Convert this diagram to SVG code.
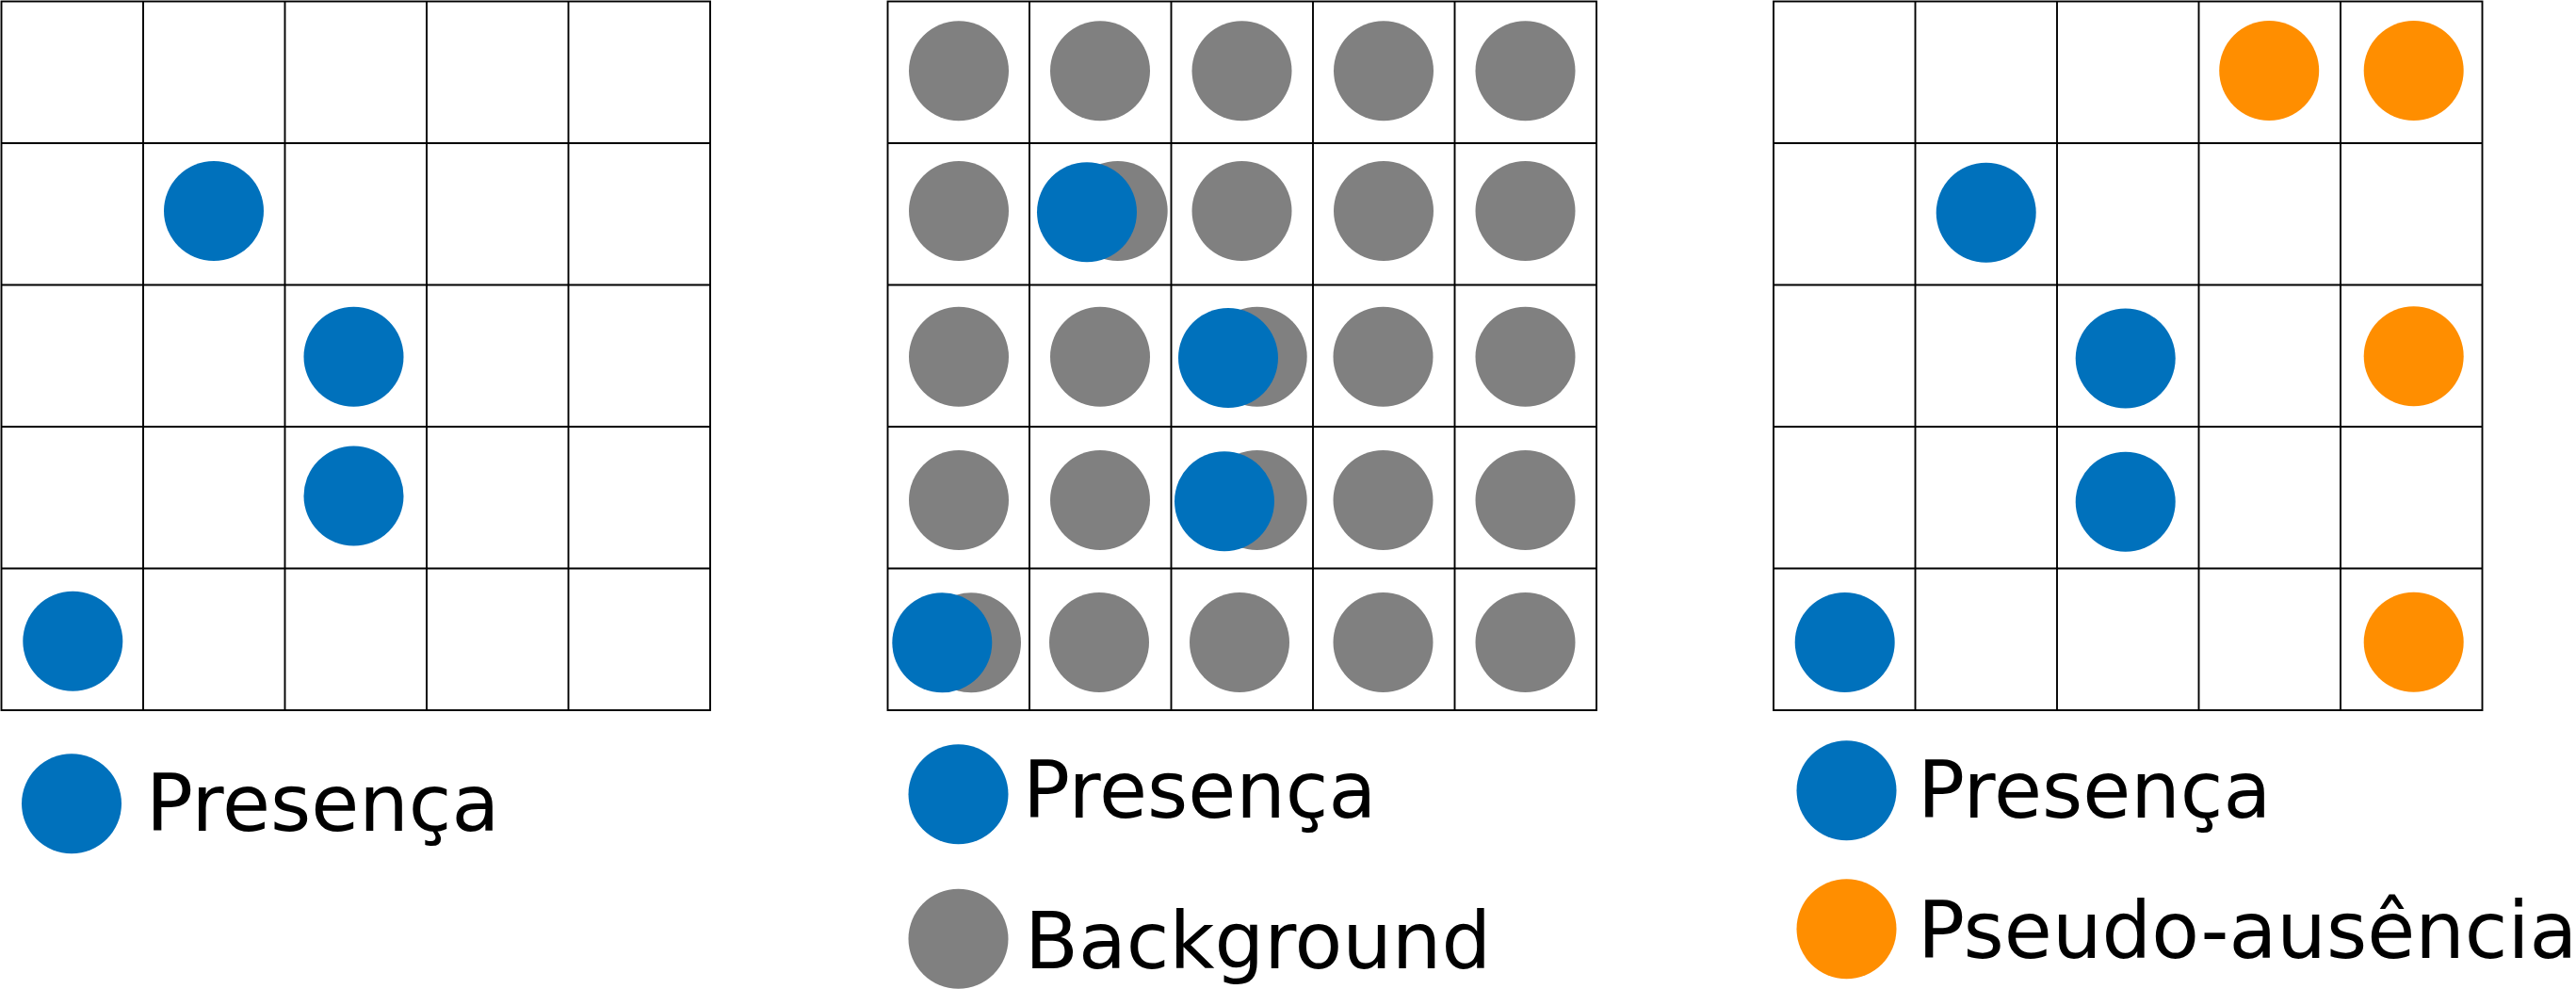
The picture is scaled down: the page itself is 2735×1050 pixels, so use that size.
<svg xmlns="http://www.w3.org/2000/svg" width="2735" height="1050" viewBox="0 0 2735 1050">
<style>
.grid{fill:none;stroke:#000;stroke-width:1.9}
.p{fill:#0071bc}
.b{fill:#808080}
.a{fill:#ff8e00}
.lbl{font-family:"DejaVu Sans","Noto Sans",sans-serif;font-size:83px;fill:#000}
</style>
<defs>
<g id="grid5">
<rect x="0" y="0" width="752.5" height="752.5"/>
<path d="M150.5 0V752.5M301 0V752.5M451.5 0V752.5M602 0V752.5M0 150.5H752.5M0 301H752.5M0 451.5H752.5M0 602H752.5"/>
</g>
</defs>
<rect width="2735" height="1050" fill="#fff"/>

<g id="panel1">
<use href="#grid5" class="grid" x="1.5" y="1.5"/>
<circle class="p" cx="227" cy="224" r="53"/>
<circle class="p" cx="375.5" cy="378.8" r="53"/>
<circle class="p" cx="375.5" cy="526.5" r="53"/>
<circle class="p" cx="77.3" cy="680.8" r="53"/>
</g>

<g id="panel2">
<use href="#grid5" class="grid" x="942.5" y="1.5"/>
<g id="bg-row0">
<circle class="b" cx="1018" cy="75.3" r="53"/>
<circle class="b" cx="1168" cy="75.3" r="53"/>
<circle class="b" cx="1318.5" cy="75.3" r="53"/>
<circle class="b" cx="1469" cy="75.3" r="53"/>
<circle class="b" cx="1619.5" cy="75.3" r="53"/>
</g>
<g id="bg-row1">
<circle class="b" cx="1018" cy="224" r="53"/>
<circle class="b" cx="1186.7" cy="224" r="53"/>
<circle class="b" cx="1318.5" cy="224" r="53"/>
<circle class="b" cx="1469" cy="224" r="53"/>
<circle class="b" cx="1619.5" cy="224" r="53"/>
</g>
<g id="bg-row2">
<circle class="b" cx="1018" cy="378.8" r="53"/>
<circle class="b" cx="1168" cy="378.8" r="53"/>
<circle class="b" cx="1334.7" cy="378.8" r="53"/>
<circle class="b" cx="1468.5" cy="378.8" r="53"/>
<circle class="b" cx="1619.5" cy="378.8" r="53"/>
</g>
<g id="bg-row3">
<circle class="b" cx="1018" cy="531" r="53"/>
<circle class="b" cx="1168" cy="531" r="53"/>
<circle class="b" cx="1334.7" cy="531" r="53"/>
<circle class="b" cx="1468.5" cy="531" r="53"/>
<circle class="b" cx="1619.5" cy="531" r="53"/>
</g>
<g id="bg-row4">
<circle class="b" cx="1031" cy="682.3" r="53"/>
<circle class="b" cx="1167" cy="682" r="53"/>
<circle class="b" cx="1316" cy="682" r="53"/>
<circle class="b" cx="1468.5" cy="682" r="53"/>
<circle class="b" cx="1619.5" cy="682" r="53"/>
</g>
<circle class="p" cx="1154" cy="225.3" r="53"/>
<circle class="p" cx="1304" cy="380" r="53"/>
<circle class="p" cx="1300" cy="532.2" r="53"/>
<circle class="p" cx="1000.3" cy="682.3" r="53"/>
</g>

<g id="panel3">
<use href="#grid5" class="grid" x="1883" y="1.5"/>
<circle class="a" cx="2409.2" cy="75" r="53"/>
<circle class="a" cx="2562.7" cy="75" r="53"/>
<circle class="p" cx="2108.7" cy="225.7" r="53"/>
<circle class="p" cx="2256.7" cy="380.5" r="53"/>
<circle class="a" cx="2562.7" cy="378.3" r="53"/>
<circle class="p" cx="2256.7" cy="532.8" r="53"/>
<circle class="p" cx="1958.7" cy="682" r="53"/>
<circle class="a" cx="2562.7" cy="681.8" r="53"/>
</g>

<g id="legend1">
<circle class="p" cx="76" cy="853.3" r="53"/>
<text class="lbl" x="155" y="881.7">Presença</text>
</g>

<g id="legend2">
<circle class="p" cx="1017.5" cy="843.3" r="53"/>
<text class="lbl" x="1086" y="868.3">Presença</text>
<circle class="b" cx="1017.5" cy="996.7" r="53"/>
<text class="lbl" x="1088" y="1028.3">Background</text>
</g>

<g id="legend3">
<circle class="p" cx="1960.5" cy="839.2" r="53"/>
<text class="lbl" x="2036" y="868.3">Presença</text>
<circle class="a" cx="1960.5" cy="986.3" r="53"/>
<text class="lbl" x="2036" y="1016.7">Pseudo-ausência</text>
</g>

<g id="connectors"/>
</svg>
